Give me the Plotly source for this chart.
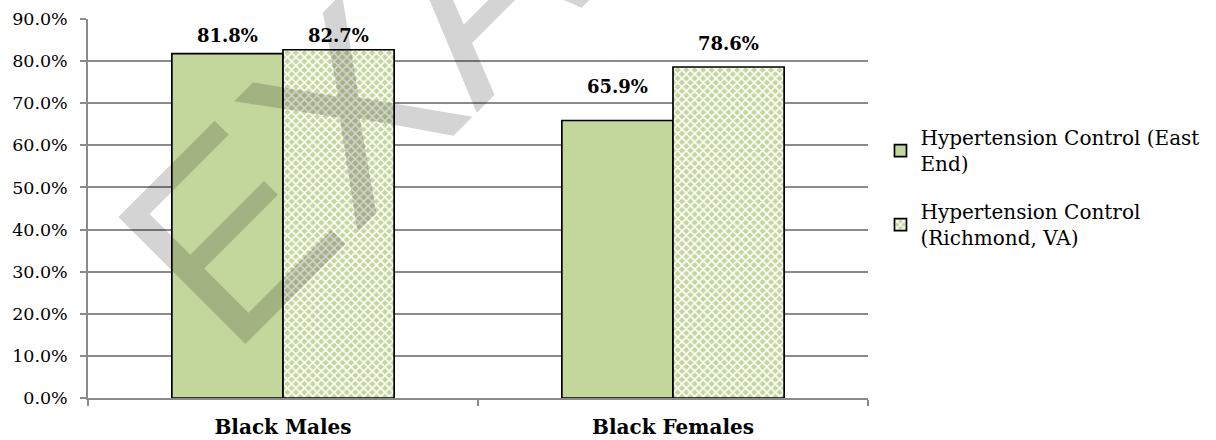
import plotly.graph_objects as go

# Hypertension control rates by group
categories = ["Black Males", "Black Females"]
east_end = [81.8, 65.9]
richmond = [82.7, 78.6]
series_names = ["Hypertension Control (East<br>End)", "Hypertension Control<br>(Richmond, VA)"]
y_ticks = [0, 10, 20, 30, 40, 50, 60, 70, 80, 90]
y_tick_labels = [f"{v:.1f}%" for v in y_ticks]

GREEN = "#c3d69b"
GRID = "#8a8a8a"
SERIF = "DejaVu Serif"
BARGAP = 0.43

# vertical lift (px) of each value label above its bar top
label_lift = {"east": [18, 34], "richmond": [14, 23.5]}

fig = go.Figure()

fig.add_trace(go.Bar(
    name=series_names[0],
    x=categories,
    y=east_end,
    marker=dict(color=GREEN, line=dict(color="black", width=1.7)),
    legendgroup="a",
))

fig.add_trace(go.Bar(
    name=series_names[1],
    x=categories,
    y=richmond,
    marker=dict(
        color=GREEN,
        line=dict(color="black", width=1.7),
        pattern=dict(shape="x", fgcolor="#ffffff", bgcolor=GREEN, size=6, solidity=0.45),
    ),
    legendgroup="b",
))

# Value labels centred over each bar of the group
half = (1 - BARGAP) / 4
for i, cat in enumerate(categories):
    for offset, values, lifts in ((-half, east_end, label_lift["east"]),
                                  (half, richmond, label_lift["richmond"])):
        fig.add_annotation(
            x=i + offset, y=values[i],
            xref="x", yref="y",
            text=f"{values[i]:.1f}%",
            showarrow=False,
            xanchor="center", yanchor="middle",
            yshift=lifts[i],
            font=dict(family=SERIF, size=18, color="black", weight="bold"),
        )

# Diagonal watermark across the chart
fig.add_annotation(
    text="EXAMPLE",
    xref="paper", yref="paper",
    x=0.659, y=1.42,
    xanchor="center", yanchor="middle",
    textangle=-45,
    showarrow=False,
    font=dict(family="Liberation Sans", size=261, color="rgba(0,0,0,0.17)"),
)

fig.update_layout(
    template="none",
    width=1216,
    height=440,
    margin=dict(l=88, r=348, t=19, b=42),
    paper_bgcolor="white",
    plot_bgcolor="white",
    barmode="group",
    bargap=BARGAP,
    bargroupgap=0,
    font=dict(family=SERIF, color="black"),
    showlegend=True,
    legend=dict(
        x=1.016, y=0.7385,
        xanchor="left", yanchor="top",
        font=dict(family=SERIF, size=20, color="black"),
        traceorder="grouped",
        tracegroupgap=19,
        bgcolor="rgba(0,0,0,0)",
    ),
    xaxis=dict(
        type="category",
        range=[-0.5, 1.5],
        showline=True, linecolor=GRID, linewidth=1.5,
        ticks="outside", tickson="boundaries", ticklen=6,
        tickcolor=GRID, tickwidth=1.5,
        showgrid=False,
        tickfont=dict(family=SERIF, size=20, color="black", weight="bold"),
        ticklabelstandoff=10,
        automargin=False,
        zeroline=False,
    ),
    yaxis=dict(
        range=[0, 90],
        tickvals=y_ticks,
        ticktext=y_tick_labels,
        showline=True, linecolor=GRID, linewidth=1.5,
        ticks="outside", ticklen=6, tickcolor=GRID, tickwidth=1.5,
        showgrid=True, gridcolor=GRID, gridwidth=1.5,
        tickfont=dict(family=SERIF, size=17.5, color="black"),
        ticklabelstandoff=9,
        automargin=False,
        zeroline=False,
    ),
)

fig.write_html("out.html")
